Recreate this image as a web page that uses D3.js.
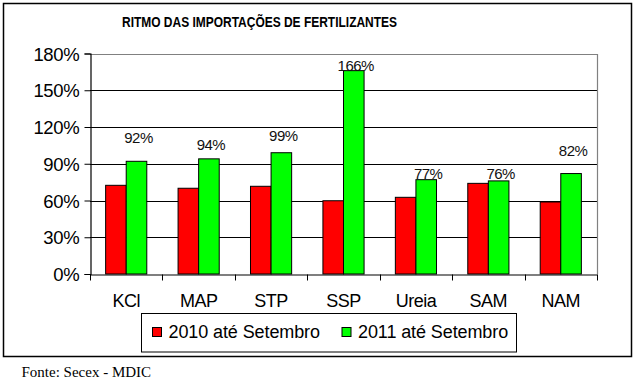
<!DOCTYPE html>
<html>
<head>
<meta charset="utf-8">
<script src="https://cdn.jsdelivr.net/npm/d3@7"></script>
<style>
  html, body { margin: 0; padding: 0; background: #fff; }
  svg { display: block; font-family: "Liberation Sans", Arial, sans-serif; }
</style>
</head>
<body>
<svg id="chart" width="637" height="381"></svg>
<script>
// ---- data ----
const categories = ["KCl", "MAP", "STP", "SSP", "Ureia", "SAM", "NAM"];
const seriesNames = ["2010 até Setembro", "2011 até Setembro"];
const values2010 = [0.724, 0.70, 0.716, 0.598, 0.626, 0.74, 0.588];
const values2011 = [0.92, 0.94, 0.99, 1.66, 0.77, 0.76, 0.82];
const labels2011 = ["92%", "94%", "99%", "166%", "77%", "76%", "82%"];
const yTicks = [0, 0.3, 0.6, 0.9, 1.2, 1.5, 1.8];
const seriesColors = ["#FF0000", "#00FF00"];

// label lift above bar top (px), as placed in the original
const labelLift = [23, 14, 17, 5, 6, 7, 23];

(function () {
const svg = d3.select("#chart");

// outer frame
svg.append("rect").attr("x", 3.5).attr("y", 3.5).attr("width", 628).attr("height", 353)
  .attr("fill", "none").attr("stroke", "#000").attr("stroke-width", 1.5);

// title
svg.append("text").attr("x", 259.5).attr("y", 27).attr("text-anchor", "middle")
  .attr("font-size", 15).attr("font-weight", "bold")
  .attr("textLength", 275).attr("lengthAdjust", "spacingAndGlyphs")
  .text("RITMO DAS IMPORTAÇÕES DE FERTILIZANTES");

const pLeft = 90, pRight = 597, pTop = 53.5, pBottom = 274;

const x0 = d3.scaleBand().domain(categories).range([pLeft, pRight]).padding(0);
const x1 = d3.scaleBand().domain(seriesNames).range([0, x0.bandwidth()])
  .paddingInner(0).paddingOuter(0.76);
const y = d3.scaleLinear().domain([0, 1.8]).range([pBottom, pTop]);

// gridlines
svg.append("g").selectAll("line").data(yTicks.filter(d => d > 0 && d < 1.8)).join("line")
  .attr("x1", pLeft).attr("x2", pRight)
  .attr("y1", d => Math.round(y(d)) + 0.5).attr("y2", d => Math.round(y(d)) + 0.5)
  .attr("stroke", "#000").attr("stroke-width", 1);

// plot border (grey top and right)
svg.append("path")
  .attr("d", `M${pLeft},${Math.round(y(1.8)) + 0.5}H${pRight + 0.5}V${pBottom}`)
  .attr("fill", "none").attr("stroke", "#808080").attr("stroke-width", 1.2);

// bars
const seriesVals = [values2010, values2011];
const groups = svg.append("g").selectAll("g").data(categories).join("g")
  .attr("transform", d => `translate(${x0(d)},0)`);
groups.selectAll("rect")
  .data((d, i) => seriesNames.map((s, k) => ({ s, v: seriesVals[k][i], k })))
  .join("rect")
  .attr("x", d => x1(d.s))
  .attr("width", x1.bandwidth())
  .attr("y", d => y(d.v))
  .attr("height", d => y(0) - y(d.v))
  .attr("fill", d => seriesColors[d.k])
  .attr("stroke", "#000").attr("stroke-width", 1);

// data labels
svg.append("g").selectAll("text").data(categories).join("text")
  .attr("x", (d, i) => x0(d) + x1(seriesNames[1]) + x1.bandwidth() / 2 + 2)
  .attr("y", (d, i) => y(values2011[i]) - labelLift[i] + 5)
  .attr("text-anchor", "middle").attr("font-size", 15).attr("letter-spacing", -0.5)
  .attr("fill", "#111")
  .text((d, i) => labels2011[i]);

// y axis
const yAxis = d3.axisLeft(y).tickValues(yTicks).tickFormat(d3.format(".0%"))
  .tickSize(6).tickPadding(5);
const gy = svg.append("g").attr("transform", `translate(${pLeft + 0.5},0)`).call(yAxis);
gy.select(".domain").attr("stroke", "#000").attr("stroke-width", 1.2);
gy.selectAll(".tick line").attr("stroke", "#000");
gy.selectAll(".tick text").attr("font-size", 18.5).attr("font-family", "Liberation Sans, Arial, sans-serif")
  .attr("letter-spacing", -0.3).attr("fill", "#000").attr("dy", "0.36em");

// x axis
const xAxis = d3.axisBottom(x0).tickSize(0).tickPadding(20);
const gx = svg.append("g").attr("transform", `translate(0,${pBottom + 0.5})`).call(xAxis);
gx.select(".domain").attr("stroke", "#000").attr("stroke-width", 1.2);
gx.selectAll(".tick text").attr("font-size", 18).attr("font-family", "Liberation Sans, Arial, sans-serif")
  .attr("letter-spacing", -0.5).attr("fill", "#000");
// boundary tick marks
gx.append("g").selectAll("line").data(categories.concat(["_end"])).join("line")
  .attr("x1", (d, i) => Math.round(i < categories.length ? x0(d) : pRight) + 0.5)
  .attr("x2", (d, i) => Math.round(i < categories.length ? x0(d) : pRight) + 0.5)
  .attr("y1", 0).attr("y2", 6).attr("stroke", "#000").attr("stroke-width", 1);

// legend
const lg = svg.append("g");
lg.append("rect").attr("x", 141.5).attr("y", 313.5).attr("width", 375).attr("height", 38.5)
  .attr("fill", "#fff").attr("stroke", "#000").attr("stroke-width", 1);
const legendX = [152.5, 342];
seriesNames.forEach((s, k) => {
  lg.append("rect").attr("x", legendX[k]).attr("y", 327.5).attr("width", 9).attr("height", 9)
    .attr("fill", seriesColors[k]).attr("stroke", "#000").attr("stroke-width", 1);
  lg.append("text").attr("x", legendX[k] + 16).attr("y", 338)
    .attr("font-size", 18).attr("letter-spacing", -0.1).text(s);
});

// source
svg.append("text").attr("x", 21.5).attr("y", 377)
  .attr("font-family", "Liberation Serif, Times New Roman, serif").attr("font-size", 15)
  .text("Fonte: Secex - MDIC");
})();
</script>
</body>
</html>
